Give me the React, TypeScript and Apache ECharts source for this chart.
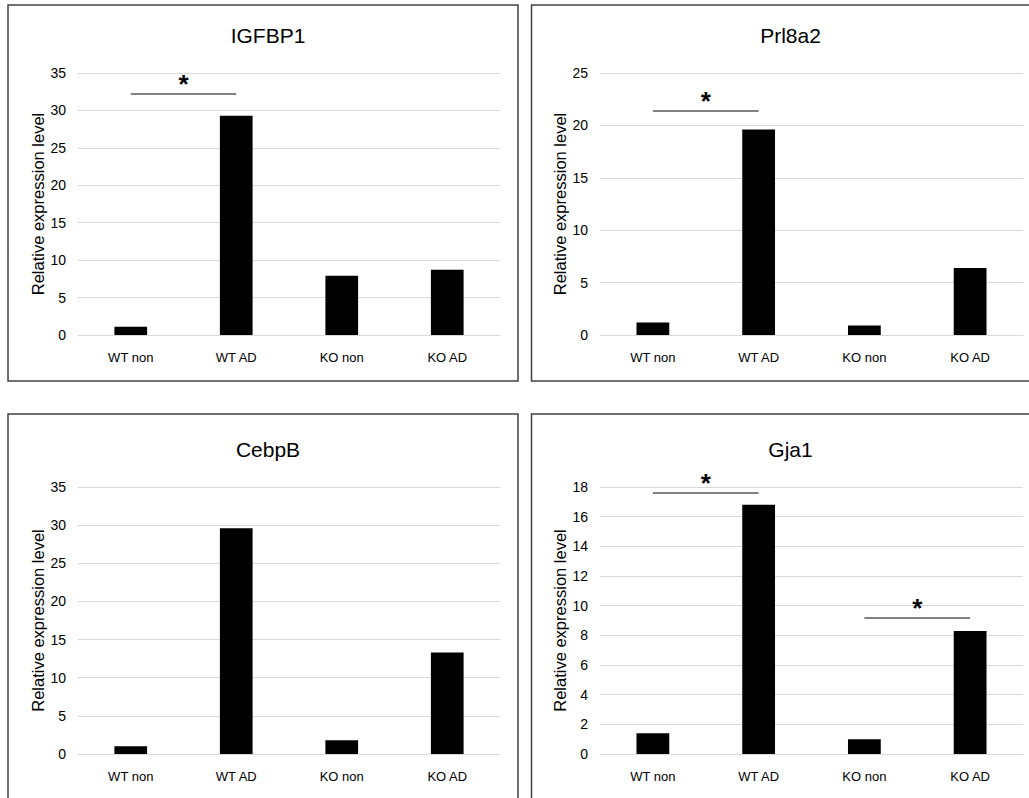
import React, { useEffect, useRef } from "react";
import * as echarts from "echarts";

const categories = ["WT non", "WT AD", "KO non", "KO AD"];
const titles = ["IGFBP1", "Prl8a2", "CebpB", "Gja1"];
const igfbp1 = [1.1, 29.3, 7.9, 8.7];
const prl8a2 = [1.2, 19.6, 0.9, 6.4];
const cebpb = [1.0, 29.6, 1.8, 13.3];
const gja1 = [1.4, 16.8, 1.0, 8.3];
const yMax = [35, 25, 35, 18];
const yStep = [5, 5, 5, 2];
// significance brackets: [from category, to category, y value]
const igfbp1Sig: [string, string, number][] = [["WT non", "WT AD", 32.2]];
const prl8a2Sig: [string, string, number][] = [["WT non", "WT AD", 21.4]];
const cebpbSig: [string, string, number][] = [];
const gja1Sig: [string, string, number][] = [
  ["WT non", "WT AD", 17.6],
  ["KO non", "KO AD", 9.2],
];

const seriesValues = [igfbp1, prl8a2, cebpb, gja1];
const sigs = [igfbp1Sig, prl8a2Sig, cebpbSig, gja1Sig];

const NARROW = "Liberation Sans, Arial, sans-serif";
const WIDE = "Liberation Sans, Arial, sans-serif";

// layout (page coords)
const grids = [
  { left: 78, top: 73, width: 422, height: 262 },
  { left: 600, top: 73, width: 423, height: 262 },
  { left: 78, top: 487, width: 422, height: 267 },
  { left: 600, top: 487, width: 423, height: 267 },
];
const panels = [
  { x: 8, y: 5, width: 510, height: 376 },
  { x: 531.5, y: 5, width: 520, height: 376 },
  { x: 8, y: 414, width: 510, height: 400 },
  { x: 531.5, y: 414, width: 520, height: 400 },
];

export default function App() {
  const ref = useRef<HTMLDivElement>(null);
  useEffect(() => {
    if (!ref.current) return;
    const chart = echarts.init(ref.current, null, { renderer: "svg" });
    const option: any = {
      animation: false,
      backgroundColor: "#fff",
      title: titles.map((t, i) => ({
        text: t,
        left: grids[i].left + grids[i].width / 2 - 26,
        top: grids[i].top - 53,
        textAlign: "center",
        textStyle: { fontFamily: NARROW, fontSize: 21, fontWeight: "normal", color: "#000" },
      })),
      grid: grids.map((g) => ({ ...g, containLabel: false })),
      xAxis: grids.map((_, i) => ({
        type: "category",
        gridIndex: i,
        data: categories,
        axisTick: { show: false },
        axisLine: { show: true, lineStyle: { color: "#d9d9d9", width: 1 } },
        axisLabel: { fontFamily: NARROW, fontSize: 13, color: "#000", margin: 16 },
      })),
      yAxis: grids.map((_, i) => ({
        type: "value",
        gridIndex: i,
        min: 0,
        max: yMax[i],
        interval: yStep[i],
        name: "Relative expression level",
        nameLocation: "middle",
        nameRotate: 90,
        nameGap: 31,
        nameTextStyle: { fontFamily: WIDE, fontSize: 16.5, color: "#000" },
        axisLine: { show: false },
        axisTick: { show: false },
        axisLabel: { fontFamily: NARROW, fontSize: 14, color: "#000", margin: 12 },
        splitLine: { show: true, lineStyle: { color: "#d9d9d9", width: 1 } },
      })),
      series: seriesValues.map((vals, i) => ({
        type: "bar",
        xAxisIndex: i,
        yAxisIndex: i,
        data: vals,
        barWidth: "31%",
        itemStyle: { color: "#000" },
        markLine: {
          silent: true,
          symbol: "none",
          lineStyle: { color: "#595959", width: 1.5, type: "solid" },
          label: {
            show: true,
            position: "middle",
            formatter: "*",
            fontSize: 26,
            fontWeight: "bold",
            fontFamily: NARROW,
            color: "#000",
            distance: -3,
          },
          data: sigs[i].map(([a, b, y]) => [
            { coord: [a, y] },
            { coord: [b, y] },
          ]),
        },
      })),
      graphic: panels.map((p) => ({
        type: "rect",
        shape: p,
        style: { fill: "none", stroke: "#404040", lineWidth: 1.5 },
        silent: true,
        z: 10,
      })),
    };
    chart.setOption(option);
    return () => chart.dispose();
  }, []);
  return (
    <div
      ref={ref}
      style={{ position: "absolute", left: 0, top: 0, width: 1029, height: 798 }}
    />
  );
}
